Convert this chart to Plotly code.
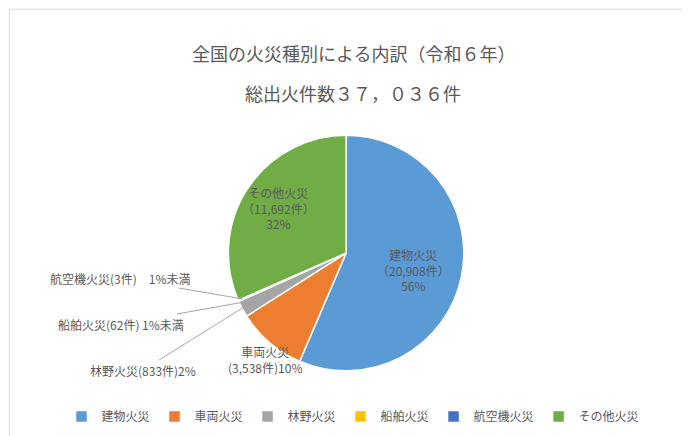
import plotly.graph_objects as go

labels = ["建物火災", "車両火災", "林野火災", "船舶火災", "航空機火災", "その他火災"]
values = [20908, 3538, 833, 62, 3, 11692]
colors = ["#5B9BD5", "#ED7D31", "#A5A5A5", "#FFC000", "#4472C4", "#70AD47"]
title_lines = ["全国の火災種別による内訳（令和６年）", "総出火件数３７，０３６件"]

W, H = 690, 436
gray = "#595959"
font = "Noto Sans CJK JP"

fig = go.Figure(go.Pie(
    labels=labels, values=values, sort=False, direction="clockwise", rotation=0,
    marker=dict(colors=colors, line=dict(color="white", width=1.5)),
    textinfo="none", hoverinfo="label+value+percent",
    domain=dict(x=[0.319, 0.661], y=[0.168, 0.708]),
))

def px_(x, y):
    return x / W, 1 - y / H

anns = []
for txt, y in zip(title_lines, [30, 70]):
    anns.append(dict(x=0.5, y=1 - y / H, xref="paper", yref="paper", text=txt, showarrow=False,
                     font=dict(size=18, color=gray, family=font)))

for txt, (x, y) in [
    ("建物火災<br>（20,908件）<br>56%", (405, 262)),
    ("その他火災<br>（11,692件）<br>32%", (270, 200)),
    ("車両火災<br>(3,538件)10%", (257, 370)),
]:
    ax, ay = px_(x, y)
    anns.append(dict(x=ax, y=ay, xref="paper", yref="paper", text=txt, showarrow=False,
                     font=dict(size=12, color=gray, family=font)))

for txt, tip, off in [
    ("林野火災(833件)2%", (236, 299), (-101, 63)),
    ("船舶火災(62件) 1%未満", (236, 294), (-123, 22)),
    ("航空機火災(3件)　1%未満", (235, 291), (-123, -21)),
]:
    ax, ay = px_(*tip)
    anns.append(dict(x=ax, y=ay, xref="paper", yref="paper", text=txt, showarrow=True,
                     arrowhead=0, arrowwidth=1, arrowcolor="#A6A6A6", ax=off[0], ay=off[1],
                     font=dict(size=12, color=gray, family=font)))

fig.update_layout(
    width=W, height=H,
    margin=dict(l=0, r=0, t=0, b=0),
    paper_bgcolor="white",
    legend=dict(orientation="h", x=0.5, xanchor="center", y=0.03, yanchor="bottom",
                font=dict(size=12, color=gray, family=font), itemwidth=30,
                entrywidth=0, tracegroupgap=0),
    annotations=anns,
    shapes=[dict(type="rect", xref="paper", yref="paper", x0=0.002, y0=0.003, x1=0.998, y1=0.997,
                 line=dict(color="#D9D9D9", width=1))],
)

fig.write_html("out.html")
